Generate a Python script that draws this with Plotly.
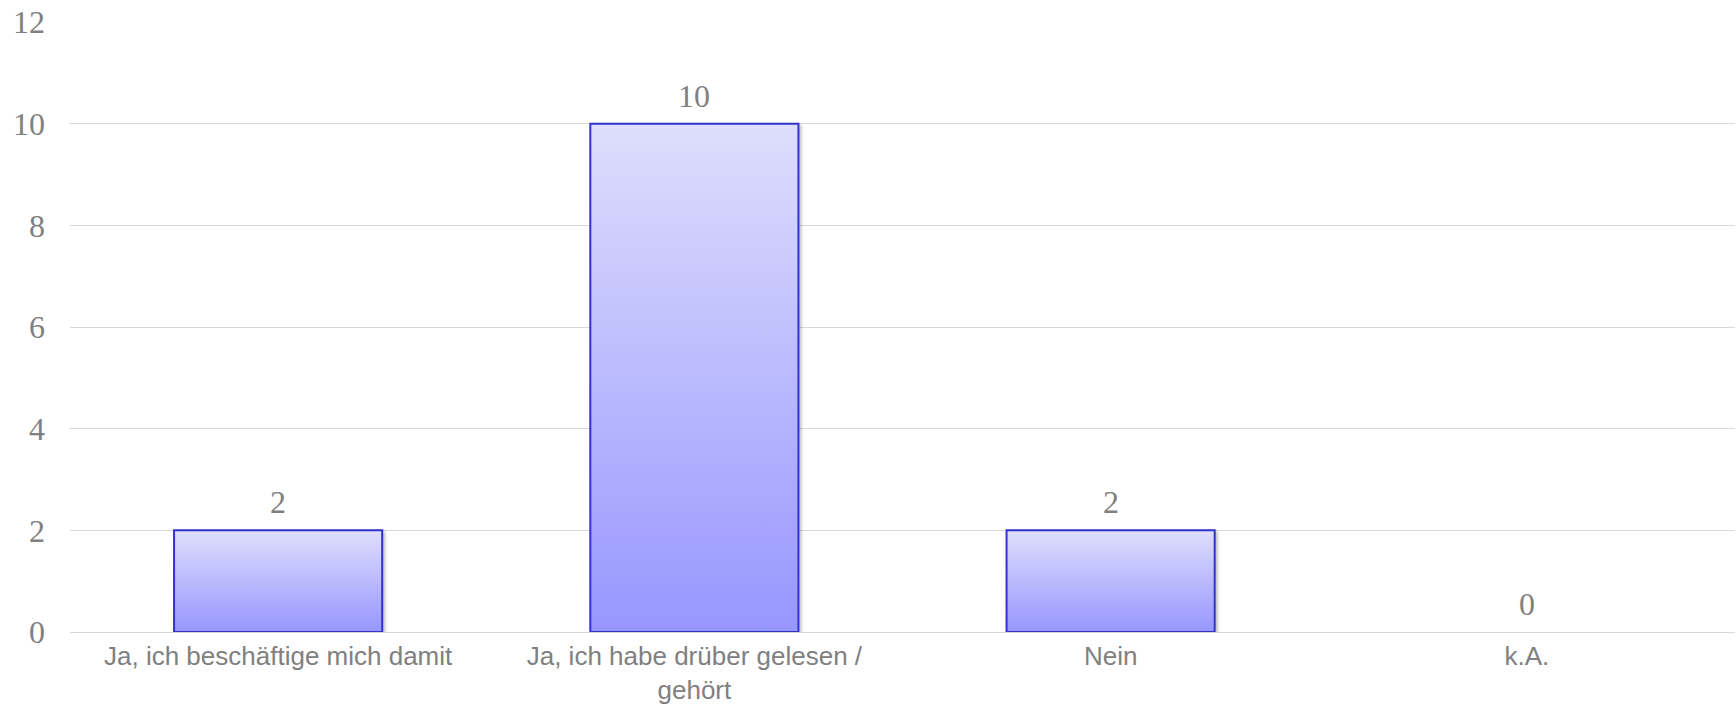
import plotly.graph_objects as go

categories = ["Ja, ich beschäftige mich damit", "Ja, ich habe drüber gelesen /<br>gehört", "Nein", "k.A."]
values = [2, 10, 2, 0]
y_ticks = [0, 2, 4, 6, 8, 10, 12]

GRAY = "#808080"
SERIF = "Liberation Serif, Times New Roman, serif"
SANS = "Liberation Sans, Arial, sans-serif"

fig = go.Figure()
fig.add_trace(go.Bar(
    x=categories, y=values,
    marker=dict(color="#B8B8FE", line=dict(color="#3333CC", width=2)),
    hoverinfo="x+y",
))

for c, v in zip(categories, values):
    fig.add_annotation(x=c, y=v, text=str(v), showarrow=False, yanchor="bottom",
                       yshift=8, font=dict(family=SERIF, size=32, color=GRAY))

fig.update_layout(
    width=1736, height=708,
    margin=dict(l=70, r=1, t=22, b=76),
    paper_bgcolor="white", plot_bgcolor="white",
    bargap=0.5, showlegend=False,
    xaxis=dict(showgrid=False, showline=False, zeroline=False, ticks="",
               tickfont=dict(family=SANS, size=26, color=GRAY),
               ticklabelstandoff=6, automargin=False),
    yaxis=dict(range=[0, 12], tickvals=y_ticks, showgrid=True, gridcolor="#D9D9D9",
               gridwidth=1, zeroline=True, zerolinecolor="#D9D9D9", zerolinewidth=1,
               showline=False, ticks="", automargin=False,
               tickfont=dict(family=SERIF, size=32, color=GRAY),
               ticklabelstandoff=24),
)

post = """
var gd = document.getElementById('{plot_id}');
function applyGrad(){
  var svg = gd.querySelector('svg.main-svg');
  if(!svg) return;
  var defs = svg.querySelector('defs');
  var ns = 'http://www.w3.org/2000/svg';
  if(!document.getElementById('barGrad')){
    var lg = document.createElementNS(ns,'linearGradient');
    lg.setAttribute('id','barGrad');
    lg.setAttribute('x1','0'); lg.setAttribute('y1','0');
    lg.setAttribute('x2','0'); lg.setAttribute('y2','1');
    [['0','#DEDEFC'],['1','#9696FF']].forEach(function(s){
      var st = document.createElementNS(ns,'stop');
      st.setAttribute('offset', s[0]); st.setAttribute('stop-color', s[1]);
      lg.appendChild(st);
    });
    defs.appendChild(lg);
    var f = document.createElementNS(ns,'filter');
    f.setAttribute('id','barShadow');
    f.setAttribute('x','-10%'); f.setAttribute('y','-10%');
    f.setAttribute('width','130%'); f.setAttribute('height','130%');
    var ds = document.createElementNS(ns,'feDropShadow');
    ds.setAttribute('dx','2'); ds.setAttribute('dy','2');
    ds.setAttribute('stdDeviation','1.5');
    ds.setAttribute('flood-color','#000'); ds.setAttribute('flood-opacity','0.25');
    f.appendChild(ds);
    defs.appendChild(f);
  }
  gd.querySelectorAll('.bars .point path').forEach(function(p){
    p.style.fill = 'url(#barGrad)';
    p.style.filter = 'url(#barShadow)';
  });
}
applyGrad();
gd.on('plotly_afterplot', applyGrad);
"""

fig.write_html("out.html", post_script=post, config={"displayModeBar": False})
